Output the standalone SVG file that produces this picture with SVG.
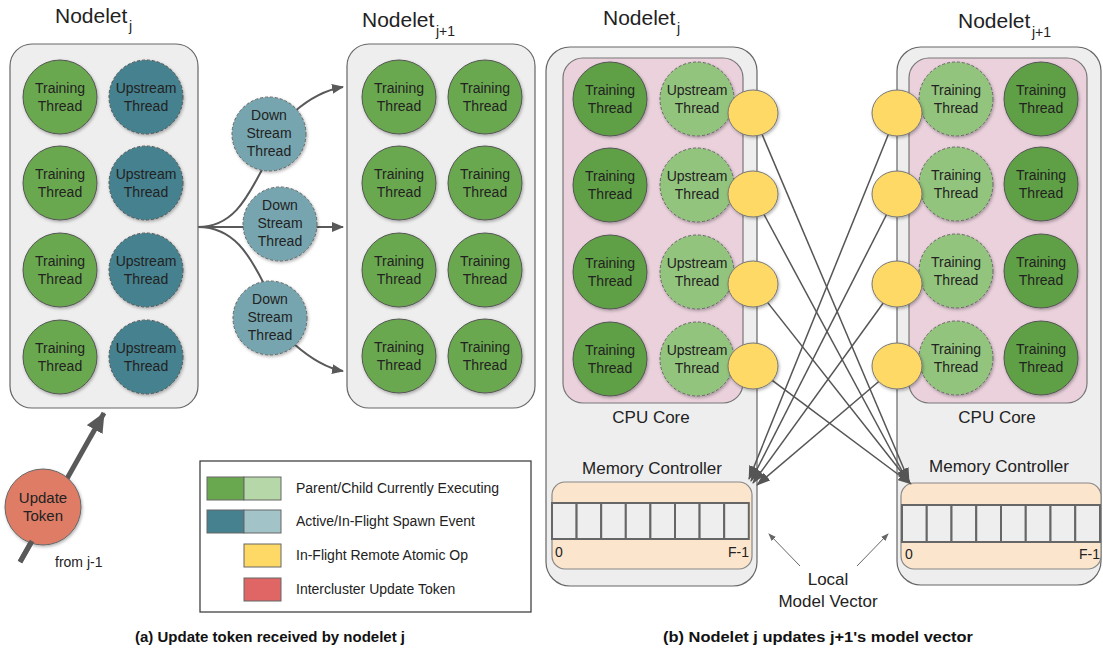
<svg xmlns="http://www.w3.org/2000/svg" width="1103" height="656" viewBox="0 0 1103 656">
<defs>
<style>
.box{fill:#eeeeee;stroke:#666;stroke-width:1.2}
.core{fill:#ead1dc;stroke:#777;stroke-width:1.2}
.mem{fill:#fce5cd;stroke:#888;stroke-width:1.2}
.cell{fill:#eeeeee;stroke:#666;stroke-width:2}
.tr{fill:#6aa84f;stroke:#555;stroke-width:1}
.trd{fill:#5f9f45;stroke:#555;stroke-width:1}
.up{fill:#45818e;stroke:#555;stroke-width:1;stroke-dasharray:3 2}
.lt{fill:#93c47d;stroke:#666;stroke-width:1;stroke-dasharray:3 2}
.ds{fill:#76a5af;stroke:#666;stroke-width:1;stroke-dasharray:3 2}
.yl{fill:#ffd966;stroke:#777;stroke-width:1}
.t{font-family:"Liberation Sans",Arial,sans-serif;font-size:14px;fill:#222;text-anchor:middle}
.l{font-family:"Liberation Sans",Arial,sans-serif;font-size:17px;fill:#222;text-anchor:middle}
.h{font-family:"Liberation Sans",Arial,sans-serif;font-size:21px;fill:#222}
.s{font-family:"Liberation Sans",Arial,sans-serif;font-size:14px;fill:#222}
.lg{font-family:"Liberation Sans",Arial,sans-serif;font-size:14px;fill:#222}
.cap{font-family:"Liberation Sans",Arial,sans-serif;font-size:14px;font-weight:bold;fill:#111;text-anchor:middle}
.c1{fill:none;stroke:#595959;stroke-width:2}
.c2{fill:none;stroke:#555;stroke-width:1.5}
.c3{fill:none;stroke:#666;stroke-width:1}
</style>
<filter id="sh" x="-20%" y="-20%" width="150%" height="150%">
<feDropShadow dx="1" dy="1.5" stdDeviation="1.5" flood-color="#000" flood-opacity="0.3"/>
</filter>
<marker id="ar" viewBox="0 0 12 10" refX="11" refY="5" markerWidth="12" markerHeight="10" markerUnits="userSpaceOnUse" orient="auto">
<path d="M0,0 L12,5 L0,10 z" fill="#595959"/>
</marker>
<marker id="ar2" viewBox="0 0 14 10" refX="13" refY="5" markerWidth="14" markerHeight="10" markerUnits="userSpaceOnUse" orient="auto">
<path d="M0,0 L14,5 L0,10 z" fill="#555"/>
</marker>
<marker id="ar3" viewBox="0 0 8 6" refX="7" refY="3" markerWidth="8" markerHeight="6" markerUnits="userSpaceOnUse" orient="auto">
<path d="M0,0 L8,3 L0,6 z" fill="#666"/>
</marker>
<marker id="arBig" viewBox="0 0 20 18" refX="19" refY="9" markerWidth="20" markerHeight="18" markerUnits="userSpaceOnUse" orient="auto">
<path d="M0,0 L20,9 L0,18 z" fill="#595959"/>
</marker>
</defs>
<rect width="1103" height="656" fill="#ffffff"/>

<!-- Panel a titles -->
<g id="title-a-left"><text class="h" x="55" y="23">Nodelet</text><text class="s" x="129" y="31">j</text></g>
<g id="title-a-right"><text class="h" x="362" y="27">Nodelet</text><text class="s" x="436" y="36">j+1</text></g>

<!-- Connectors panel a -->
<g id="connectors-a">
<path class="c1" d="M198,227 L343,227" marker-end="url(#ar)"/>
<path class="c1" d="M198,227 C234,227 248,196 264,166"/>
<path class="c1" d="M294,112 C310,98 325,90 343,87" marker-end="url(#ar)"/>
<path class="c1" d="M198,227 C234,227 250,256 264,284"/>
<path class="c1" d="M294,344 C310,358 325,368 343,371" marker-end="url(#ar)"/>
<path d="M20,562 L104,413" stroke="#595959" stroke-width="5" fill="none" marker-end="url(#arBig)"/>
</g>

<!-- Nodelet j (panel a) -->
<g id="nodelet-a-j">
<rect class="box" x="10" y="44" width="188" height="364" rx="22"/>
<g filter="url(#sh)">
<circle class="tr" cx="60" cy="97" r="37"/><circle class="up" cx="146" cy="97" r="37"/>
<circle class="tr" cx="60" cy="183" r="37"/><circle class="up" cx="146" cy="183" r="37"/>
<circle class="tr" cx="60" cy="270" r="37"/><circle class="up" cx="146" cy="270" r="37"/>
<circle class="tr" cx="60" cy="357" r="37"/><circle class="up" cx="146" cy="357" r="37"/>
</g>
<text class="t" x="60" y="93">Training</text><text class="t" x="60" y="111">Thread</text>
<text class="t" x="146" y="93">Upstream</text><text class="t" x="146" y="111">Thread</text>
<text class="t" x="60" y="179">Training</text><text class="t" x="60" y="197">Thread</text>
<text class="t" x="146" y="179">Upstream</text><text class="t" x="146" y="197">Thread</text>
<text class="t" x="60" y="266">Training</text><text class="t" x="60" y="284">Thread</text>
<text class="t" x="146" y="266">Upstream</text><text class="t" x="146" y="284">Thread</text>
<text class="t" x="60" y="353">Training</text><text class="t" x="60" y="371">Thread</text>
<text class="t" x="146" y="353">Upstream</text><text class="t" x="146" y="371">Thread</text>
</g>

<!-- Down stream threads -->
<g id="downstream-1"><circle class="ds" cx="269" cy="134" r="37" filter="url(#sh)"/>
<text class="t" x="269" y="120">Down</text><text class="t" x="269" y="138">Stream</text><text class="t" x="269" y="156">Thread</text></g>
<g id="downstream-2"><circle class="ds" cx="280" cy="224" r="37" filter="url(#sh)"/>
<text class="t" x="280" y="210">Down</text><text class="t" x="280" y="228">Stream</text><text class="t" x="280" y="246">Thread</text></g>
<g id="downstream-3"><circle class="ds" cx="270" cy="318" r="37" filter="url(#sh)"/>
<text class="t" x="270" y="304">Down</text><text class="t" x="270" y="322">Stream</text><text class="t" x="270" y="340">Thread</text></g>

<!-- Nodelet j+1 (panel a) -->
<g id="nodelet-a-j1">
<rect class="box" x="347" y="44" width="188" height="364" rx="22"/>
<g filter="url(#sh)">
<circle class="tr" cx="399" cy="97" r="37"/><circle class="tr" cx="485" cy="97" r="37"/>
<circle class="tr" cx="399" cy="183" r="37"/><circle class="tr" cx="485" cy="183" r="37"/>
<circle class="tr" cx="399" cy="270" r="37"/><circle class="tr" cx="485" cy="270" r="37"/>
<circle class="tr" cx="399" cy="356" r="37"/><circle class="tr" cx="485" cy="356" r="37"/>
</g>
<text class="t" x="399" y="93">Training</text><text class="t" x="399" y="111">Thread</text>
<text class="t" x="485" y="93">Training</text><text class="t" x="485" y="111">Thread</text>
<text class="t" x="399" y="179">Training</text><text class="t" x="399" y="197">Thread</text>
<text class="t" x="485" y="179">Training</text><text class="t" x="485" y="197">Thread</text>
<text class="t" x="399" y="266">Training</text><text class="t" x="399" y="284">Thread</text>
<text class="t" x="485" y="266">Training</text><text class="t" x="485" y="284">Thread</text>
<text class="t" x="399" y="352">Training</text><text class="t" x="399" y="370">Thread</text>
<text class="t" x="485" y="352">Training</text><text class="t" x="485" y="370">Thread</text>
</g>

<!-- Update token -->
<g id="update-token">
<circle cx="43" cy="507" r="38" fill="#de7b66" stroke="#666" stroke-width="1" filter="url(#sh)"/>
<text class="t" x="43" y="503" style="font-size:15px">Update</text>
<text class="t" x="43" y="521" style="font-size:15px">Token</text>
</g>
<path d="M20,562 L32,541" stroke="#595959" stroke-width="5" fill="none"/>
<text class="s" x="55" y="567">from j-1</text>

<!-- Legend -->
<g id="legend">
<rect x="200" y="461" width="331" height="151" fill="#ffffff" stroke="#333" stroke-width="1.2"/>
<rect x="207" y="477" width="37" height="23" fill="#6aa84f" stroke="#666"/>
<rect x="244" y="477" width="37" height="23" fill="#b6d7a8" stroke="#666"/>
<rect x="207" y="510" width="37" height="23" fill="#45818e" stroke="#666"/>
<rect x="244" y="510" width="37" height="23" fill="#a2c4c9" stroke="#666"/>
<rect x="244" y="544" width="37" height="23" fill="#ffd966" stroke="#666"/>
<rect x="244" y="578" width="37" height="23" fill="#e06666" stroke="#666"/>
<text class="lg" x="296" y="493">Parent/Child Currently Executing</text>
<text class="lg" x="296" y="526">Active/In-Flight Spawn Event</text>
<text class="lg" x="296" y="560">In-Flight Remote Atomic Op</text>
<text class="lg" x="296" y="594">Intercluster Update Token</text>
</g>

<!-- Panel b titles -->
<g id="title-b-left"><text class="h" x="603" y="25">Nodelet</text><text class="s" x="677" y="33">j</text></g>
<g id="title-b-right"><text class="h" x="958" y="28">Nodelet</text><text class="s" x="1032" y="37">j+1</text></g>

<!-- Nodelet j (panel b) -->
<g id="nodelet-b-j">
<rect class="box" x="546" y="47" width="211" height="539" rx="24"/>
<rect class="core" x="563" y="58" width="180" height="345" rx="20"/>
<g filter="url(#sh)">
<circle class="trd" cx="610" cy="99" r="37"/><circle class="lt" cx="697" cy="99" r="37"/>
<circle class="trd" cx="610" cy="185" r="37"/><circle class="lt" cx="697" cy="185" r="37"/>
<circle class="trd" cx="610" cy="272" r="37"/><circle class="lt" cx="697" cy="272" r="37"/>
<circle class="trd" cx="610" cy="359" r="37"/><circle class="lt" cx="697" cy="359" r="37"/>
</g>
<text class="t" x="610" y="95">Training</text><text class="t" x="610" y="113">Thread</text>
<text class="t" x="697" y="95">Upstream</text><text class="t" x="697" y="113">Thread</text>
<text class="t" x="610" y="181">Training</text><text class="t" x="610" y="199">Thread</text>
<text class="t" x="697" y="181">Upstream</text><text class="t" x="697" y="199">Thread</text>
<text class="t" x="610" y="268">Training</text><text class="t" x="610" y="286">Thread</text>
<text class="t" x="697" y="268">Upstream</text><text class="t" x="697" y="286">Thread</text>
<text class="t" x="610" y="355">Training</text><text class="t" x="610" y="373">Thread</text>
<text class="t" x="697" y="355">Upstream</text><text class="t" x="697" y="373">Thread</text>
<text class="l" x="651" y="423">CPU Core</text>
<text class="l" x="652" y="474">Memory Controller</text>
<rect class="mem" x="552" y="482" width="200" height="87" rx="13"/>
<rect class="cell" x="552" y="503" width="24.6" height="36"/><rect class="cell" x="576.6" y="503" width="24.6" height="36"/>
<rect class="cell" x="601.2" y="503" width="24.6" height="36"/><rect class="cell" x="625.8" y="503" width="24.6" height="36"/>
<rect class="cell" x="650.4" y="503" width="24.6" height="36"/><rect class="cell" x="675" y="503" width="24.6" height="36"/>
<rect class="cell" x="699.6" y="503" width="24.6" height="36"/><rect class="cell" x="724.2" y="503" width="24.6" height="36"/>
<text class="s" x="555" y="557">0</text>
<text class="s" x="749" y="557" text-anchor="end">F-1</text>
</g>

<!-- Nodelet j+1 (panel b) -->
<g id="nodelet-b-j1">
<rect class="box" x="897" y="47" width="204" height="538" rx="24"/>
<rect class="core" x="909" y="58" width="178" height="345" rx="20"/>
<g filter="url(#sh)">
<circle class="lt" cx="956" cy="99" r="37"/><circle class="trd" cx="1041" cy="99" r="37"/>
<circle class="lt" cx="956" cy="184" r="37"/><circle class="trd" cx="1041" cy="184" r="37"/>
<circle class="lt" cx="956" cy="271" r="37"/><circle class="trd" cx="1041" cy="271" r="37"/>
<circle class="lt" cx="956" cy="358" r="37"/><circle class="trd" cx="1041" cy="358" r="37"/>
</g>
<text class="t" x="956" y="95">Training</text><text class="t" x="956" y="113">Thread</text>
<text class="t" x="1041" y="95">Training</text><text class="t" x="1041" y="113">Thread</text>
<text class="t" x="956" y="180">Training</text><text class="t" x="956" y="198">Thread</text>
<text class="t" x="1041" y="180">Training</text><text class="t" x="1041" y="198">Thread</text>
<text class="t" x="956" y="267">Training</text><text class="t" x="956" y="285">Thread</text>
<text class="t" x="1041" y="267">Training</text><text class="t" x="1041" y="285">Thread</text>
<text class="t" x="956" y="354">Training</text><text class="t" x="956" y="372">Thread</text>
<text class="t" x="1041" y="354">Training</text><text class="t" x="1041" y="372">Thread</text>
<text class="l" x="997" y="423">CPU Core</text>
<text class="l" x="999" y="472">Memory Controller</text>
<rect class="mem" x="901" y="483" width="200" height="86" rx="13"/>
<rect class="cell" x="902" y="505" width="24.75" height="37"/><rect class="cell" x="926.75" y="505" width="24.75" height="37"/>
<rect class="cell" x="951.5" y="505" width="24.75" height="37"/><rect class="cell" x="976.25" y="505" width="24.75" height="37"/>
<rect class="cell" x="1001" y="505" width="24.75" height="37"/><rect class="cell" x="1025.75" y="505" width="24.75" height="37"/>
<rect class="cell" x="1050.5" y="505" width="24.75" height="37"/><rect class="cell" x="1075.25" y="505" width="24.75" height="37"/>
<text class="s" x="905" y="559">0</text>
<text class="s" x="1100" y="559" text-anchor="end">F-1</text>
</g>

<!-- Connectors panel b -->
<g id="connectors-b">
<path class="c2" d="M753,113 L909,481" marker-end="url(#ar2)"/>
<path class="c2" d="M753,194 L908,482" marker-end="url(#ar2)"/>
<path class="c2" d="M753,284 L910,483" marker-end="url(#ar2)"/>
<path class="c2" d="M753,366 L911,484" marker-end="url(#ar2)"/>
<path class="c2" d="M897,113 L749,479" marker-end="url(#ar2)"/>
<path class="c2" d="M897,194 L751,481" marker-end="url(#ar2)"/>
<path class="c2" d="M897,284 L753,483" marker-end="url(#ar2)"/>
<path class="c2" d="M897,366 L757,485" marker-end="url(#ar2)"/>
<path class="c3" d="M800,566 L769,534" marker-end="url(#ar3)"/>
<path class="c3" d="M857,566 L888,534" marker-end="url(#ar3)"/>
</g>

<!-- Remote atomic ops -->
<g id="atomic-ops" filter="url(#sh)">
<ellipse class="yl" cx="753" cy="113" rx="25" ry="23"/>
<ellipse class="yl" cx="753" cy="194" rx="25" ry="23"/>
<ellipse class="yl" cx="753" cy="284" rx="25" ry="23"/>
<ellipse class="yl" cx="753" cy="366" rx="25" ry="23"/>
<ellipse class="yl" cx="897" cy="113" rx="25" ry="23"/>
<ellipse class="yl" cx="897" cy="194" rx="25" ry="23"/>
<ellipse class="yl" cx="897" cy="284" rx="25" ry="23"/>
<ellipse class="yl" cx="897" cy="366" rx="25" ry="23"/>
</g>

<g id="local-model-vector">
<text class="l" x="828" y="585">Local</text>
<text class="l" x="828" y="607">Model Vector</text>
</g>

<g id="captions">
<text class="cap" x="270" y="642" textLength="270" lengthAdjust="spacingAndGlyphs">(a) Update token received by nodelet j</text>
<text class="cap" x="818" y="642" textLength="310" lengthAdjust="spacingAndGlyphs">(b) Nodelet j updates j+1's model vector</text>
</g>
</svg>
